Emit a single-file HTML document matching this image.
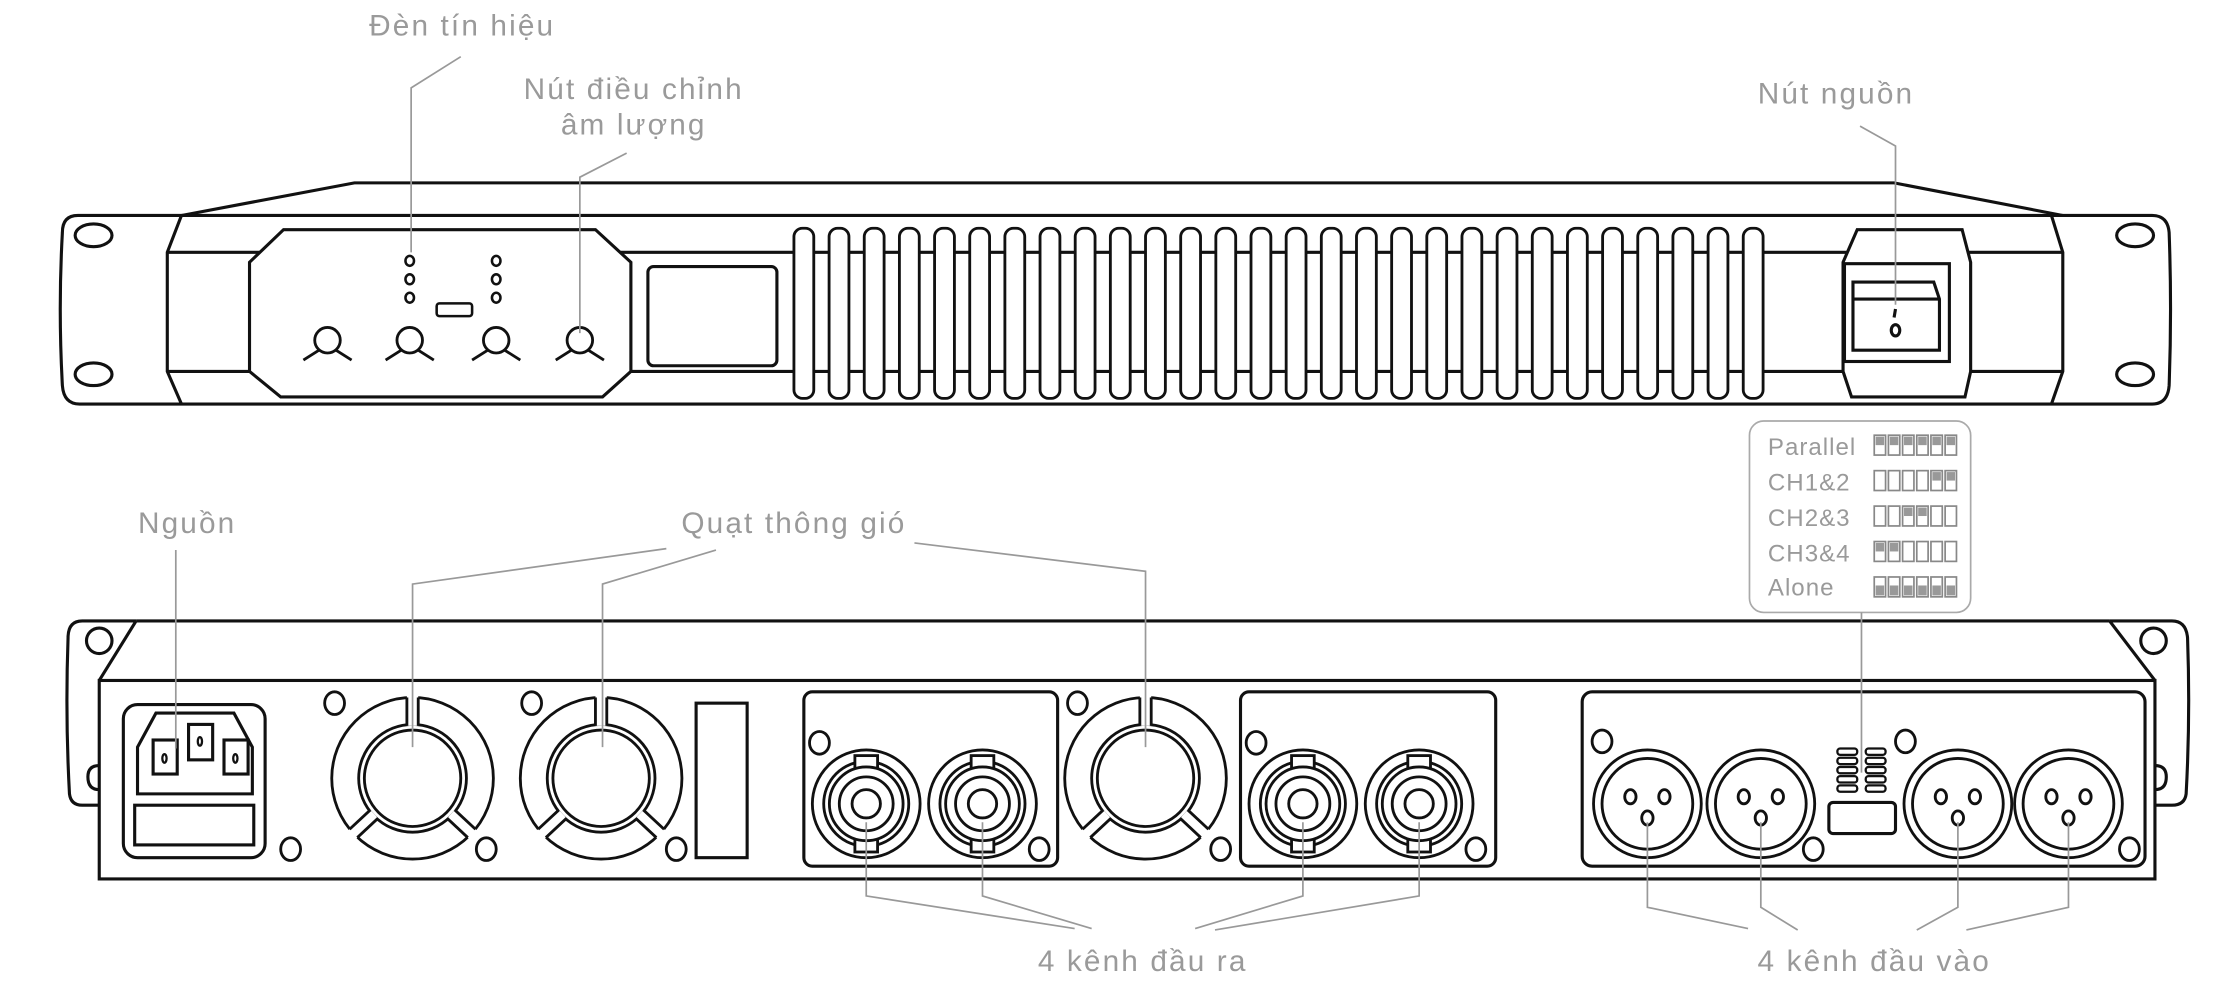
<!DOCTYPE html>
<html><head><meta charset="utf-8"><style>
html,body{margin:0;padding:0;background:#fff;}
svg{display:block}
text{font-family:"Liberation Sans",sans-serif;fill:#9a9a9a;}
.lb{font-size:21px;letter-spacing:1.5px;}
.dl{font-size:17px;letter-spacing:0.7px;}
</style></head><body>
<svg width="2223" height="1000" viewBox="0 0 1568 705.4" preserveAspectRatio="none" xmlns="http://www.w3.org/2000/svg">
<defs>
<rect id="slot" x="0" y="161" width="14" height="120" rx="6" ry="6" fill="#fff" stroke="#111" stroke-width="2"/>
<g id="fan" fill="none" stroke="#111" stroke-width="2">
  <circle r="57"/>
  <circle r="38" fill="#fff"/>
  <circle r="34"/>
  <g id="gap"><rect x="-4" y="-59" width="8" height="22" fill="#fff" stroke="none"/><line x1="-4" y1="-57" x2="-4" y2="-37"/><line x1="4" y1="-57" x2="4" y2="-37"/></g>
  <use href="#gap" transform="rotate(133)"/>
  <use href="#gap" transform="rotate(-133)"/>
</g>
<g id="spk" fill="none" stroke="#111" stroke-width="2">
  <circle r="38"/>
  <circle r="30"/>
  <rect x="-8" y="-34" width="16" height="10" fill="#fff"/>
  <rect x="-8" y="24" width="16" height="10" fill="#fff"/>
  <circle r="26" fill="#fff"/>
  <circle r="19"/>
  <circle r="10"/>
</g>
<g id="xlr" fill="none" stroke="#111" stroke-width="2">
  <circle r="38"/>
  <circle r="32"/>
  <ellipse cx="-12" cy="-5" rx="4" ry="5"/>
  <ellipse cx="12" cy="-5" rx="4" ry="5"/>
  <ellipse cx="0" cy="10" rx="4" ry="5"/>
</g>
<g id="knob" fill="none" stroke="#111" stroke-width="2">
  <circle r="9"/>
  <path d="M-6 7 L-17 14 M6 7 L17 14"/>
</g>
<g id="dipsw" stroke="#888" stroke-width="1.2" fill="#fff">
  <rect x="0" y="0" width="8" height="14"/><rect x="10" y="0" width="8" height="14"/><rect x="20" y="0" width="8" height="14"/><rect x="30" y="0" width="8" height="14"/><rect x="40" y="0" width="8" height="14"/><rect x="50" y="0" width="8" height="14"/>
</g>
</defs>

<g fill="none" stroke="#111" stroke-width="2.2">
  <path d="M128 152 L250 129 L1336 129 L1455 152"/>
  <path d="M128 152 L55 152 Q44 152 44 164 Q41 218 44 272 Q45 285 56 285 L1518 285 Q1529 285 1530 272 Q1532 218 1530 164 Q1529 152 1518 152 Z"/>
  <path d="M128 152 L118 178 L118 262 L128 285"/>
  <path d="M1447 152 L1455 178 L1455 262 L1447 285"/>
  <line x1="118" y1="178" x2="1455" y2="178"/>
  <line x1="118" y1="262" x2="1455" y2="262"/>
  <ellipse cx="66" cy="166" rx="13" ry="8"/>
  <ellipse cx="66" cy="264" rx="13" ry="8"/>
  <ellipse cx="1506" cy="166" rx="13" ry="8"/>
  <ellipse cx="1506" cy="264" rx="13" ry="8"/>
  <path d="M200 162 L420 162 L445 185 L445 262 L425 280 L198 280 L176 262 L176 185 Z" fill="#fff"/>
  <rect x="457" y="188" width="91" height="70" rx="4" fill="#fff"/>
  <path d="M1310 162 L1384 162 L1390 185 L1390 262 L1386 280 L1306 280 L1300 262 L1300 185 Z" fill="#fff"/>
  <rect x="1301" y="186" width="74" height="69" fill="#fff"/>
  <path d="M1307 247 L1307 199 L1364 199 L1368 211 L1368 247 Z"/>
  <line x1="1307" y1="211" x2="1368" y2="211"/>
  <line x1="1337" y1="218" x2="1336" y2="224"/>
  <ellipse cx="1337" cy="233" rx="3" ry="4"/>
</g>
<g fill="none" stroke="#111" stroke-width="1.8">
  <ellipse cx="289" cy="184" rx="3" ry="3.5"/><ellipse cx="289" cy="197" rx="3" ry="3.5"/><ellipse cx="289" cy="210" rx="3" ry="3.5"/>
  <ellipse cx="350" cy="184" rx="3" ry="3.5"/><ellipse cx="350" cy="197" rx="3" ry="3.5"/><ellipse cx="350" cy="210" rx="3" ry="3.5"/>
  <rect x="308" y="214" width="25" height="9" rx="2"/>
</g>
<use href="#knob" x="231" y="240"/>
<use href="#knob" x="289" y="240"/>
<use href="#knob" x="350" y="240"/>
<use href="#knob" x="409" y="240"/>
<use href="#slot" x="560"/><use href="#slot" x="584.8"/><use href="#slot" x="609.6"/><use href="#slot" x="634.4"/>
<use href="#slot" x="659.2"/><use href="#slot" x="684"/><use href="#slot" x="708.8"/><use href="#slot" x="733.6"/>
<use href="#slot" x="758.4"/><use href="#slot" x="783.2"/><use href="#slot" x="808"/><use href="#slot" x="832.8"/>
<use href="#slot" x="857.6"/><use href="#slot" x="882.4"/><use href="#slot" x="907.2"/><use href="#slot" x="932"/>
<use href="#slot" x="956.8"/><use href="#slot" x="981.6"/><use href="#slot" x="1006.4"/><use href="#slot" x="1031.2"/>
<use href="#slot" x="1056"/><use href="#slot" x="1080.8"/><use href="#slot" x="1105.6"/><use href="#slot" x="1130.4"/>
<use href="#slot" x="1155.2"/><use href="#slot" x="1180"/><use href="#slot" x="1204.8"/><use href="#slot" x="1229.6"/>

<g fill="none" stroke="#999" stroke-width="1.2">
  <path d="M325 40 L290 62 L290 178"/>
  <path d="M442 108 L409 125 L409 235"/>
  <path d="M1312 89 L1337 103 L1337 215"/>
</g>
<text class="lb" x="326" y="25" text-anchor="middle">Đèn tín hiệu</text>
<text class="lb" x="447" y="70" text-anchor="middle">Nút điều chỉnh</text>
<text class="lb" x="447" y="95" text-anchor="middle">âm lượng</text>
<text class="lb" x="1295" y="73" text-anchor="middle">Nút nguồn</text>

<g fill="none" stroke="#111" stroke-width="2.2">
  <path d="M96 438 L1488 438"/>
  <path d="M96 438 L58 438 Q48 438 48 450 Q46 505 49 560 Q50 568 58 568 L70 568"/>
  <path d="M1488 438 L1532 438 Q1542 438 1543 450 Q1545 505 1542 560 Q1541 568 1532 568 L1520 568"/>
  <path d="M96 438 L70 480 M1488 438 L1520 480"/>
  <rect x="70" y="480" width="1450" height="140" fill="#fff"/>
  <ellipse cx="70" cy="452" rx="9" ry="9"/>
  <ellipse cx="1519" cy="452" rx="9" ry="9"/>
  <path d="M70 540 Q62 540 62 548 Q62 557 70 557"/>
  <path d="M1520 540 Q1528 540 1528 548 Q1528 557 1520 557"/>
  <rect x="87" y="497" width="100" height="108" rx="10"/>
  <path d="M110 503 L165 503 L178 527 L178 560 L97 560 L97 527 Z"/>
  <rect x="108" y="522" width="17" height="24"/>
  <rect x="133" y="511" width="17" height="25"/>
  <rect x="158" y="522" width="17" height="24"/>
  <rect x="95" y="568" width="84" height="28"/>
  <rect x="491" y="496" width="36" height="109"/>
  <rect x="567" y="488" width="179" height="123" rx="6"/>
  <rect x="875" y="488" width="180" height="123" rx="6"/>
  <rect x="1116" y="488" width="397" height="123" rx="7"/>
  <rect x="1290" y="566" width="47" height="22" rx="3"/>
</g>
<g fill="none" stroke="#111" stroke-width="1.6">
  <ellipse cx="116" cy="535" rx="1.5" ry="3"/><ellipse cx="141" cy="523" rx="1.5" ry="3"/><ellipse cx="166" cy="535" rx="1.5" ry="3"/>
</g>
<g fill="none" stroke="#111" stroke-width="2">
  <ellipse cx="236" cy="496" rx="7" ry="8"/><ellipse cx="205" cy="599" rx="7" ry="8"/><ellipse cx="343" cy="599" rx="7" ry="8"/>
  <ellipse cx="375" cy="496" rx="7" ry="8"/><ellipse cx="477" cy="599" rx="7" ry="8"/>
  <ellipse cx="578" cy="524" rx="7" ry="8"/><ellipse cx="733" cy="599" rx="7" ry="8"/>
  <ellipse cx="760" cy="496" rx="7" ry="8"/><ellipse cx="861" cy="599" rx="7" ry="8"/>
  <ellipse cx="886" cy="524" rx="7" ry="8"/><ellipse cx="1041" cy="599" rx="7" ry="8"/>
  <ellipse cx="1130" cy="523" rx="7" ry="8"/>
  <ellipse cx="1279" cy="599" rx="7" ry="8"/><ellipse cx="1502" cy="599" rx="7" ry="8"/>
  <ellipse cx="1344" cy="523" rx="7" ry="8"/>
</g>
<use href="#fan" x="291" y="549"/>
<use href="#fan" x="424" y="549"/>
<use href="#fan" x="808" y="549"/>
<use href="#spk" x="611" y="567"/>
<use href="#spk" x="693" y="567"/>
<use href="#spk" x="919" y="567"/>
<use href="#spk" x="1001" y="567"/>
<use href="#xlr" x="1162" y="567"/>
<use href="#xlr" x="1242" y="567"/>
<use href="#xlr" x="1381" y="567"/>
<use href="#xlr" x="1459" y="567"/>
<g fill="#fff" stroke="#111" stroke-width="1.6">
  <rect x="1296" y="528" width="14" height="4.5" rx="2"/><rect x="1316" y="528" width="14" height="4.5" rx="2"/>
  <rect x="1296" y="534.5" width="14" height="4.5" rx="2"/><rect x="1316" y="534.5" width="14" height="4.5" rx="2"/>
  <rect x="1296" y="541" width="14" height="4.5" rx="2"/><rect x="1316" y="541" width="14" height="4.5" rx="2"/>
  <rect x="1296" y="547.5" width="14" height="4.5" rx="2"/><rect x="1316" y="547.5" width="14" height="4.5" rx="2"/>
  <rect x="1296" y="554" width="14" height="4.5" rx="2"/><rect x="1316" y="554" width="14" height="4.5" rx="2"/>
</g>

<rect x="1234" y="297" width="156" height="135" rx="10" fill="#fff" stroke="#aaa" stroke-width="1.2"/>
<text class="dl" x="1247" y="321">Parallel</text>
<text class="dl" x="1247" y="346">CH1&amp;2</text>
<text class="dl" x="1247" y="371">CH2&amp;3</text>
<text class="dl" x="1247" y="396">CH3&amp;4</text>
<text class="dl" x="1247" y="420">Alone</text>
<use href="#dipsw" x="1322" y="307"/>
<use href="#dipsw" x="1322" y="332"/>
<use href="#dipsw" x="1322" y="357"/>
<use href="#dipsw" x="1322" y="382"/>
<use href="#dipsw" x="1322" y="407"/>
<g fill="#999">
  <rect x="1323" y="308" width="6" height="6"/><rect x="1333" y="308" width="6" height="6"/><rect x="1343" y="308" width="6" height="6"/><rect x="1353" y="308" width="6" height="6"/><rect x="1363" y="308" width="6" height="6"/><rect x="1373" y="308" width="6" height="6"/>
  <rect x="1363" y="333" width="6" height="6"/><rect x="1373" y="333" width="6" height="6"/>
  <rect x="1343" y="358" width="6" height="6"/><rect x="1353" y="358" width="6" height="6"/>
  <rect x="1323" y="383" width="6" height="6"/><rect x="1333" y="383" width="6" height="6"/>
  <rect x="1323" y="413" width="6" height="7"/><rect x="1333" y="413" width="6" height="7"/><rect x="1343" y="413" width="6" height="7"/><rect x="1353" y="413" width="6" height="7"/><rect x="1363" y="413" width="6" height="7"/><rect x="1373" y="413" width="6" height="7"/>
</g>

<g fill="none" stroke="#999" stroke-width="1.2">
  <path d="M124 388 L124 528"/>
  <path d="M470 387 L291 412 L291 527"/>
  <path d="M505 388 L425 412 L425 527"/>
  <path d="M645 383 L808 403 L808 527"/>
  <path d="M1313 432 L1313 545"/>
  <path d="M611 580 L611 632 L758 655"/>
  <path d="M693 580 L693 632 L770 655"/>
  <path d="M919 580 L919 632 L843 655"/>
  <path d="M1001 580 L1001 632 L857 656"/>
  <path d="M1162 580 L1162 640 L1233 655"/>
  <path d="M1242 580 L1242 640 L1268 656"/>
  <path d="M1381 580 L1381 640 L1352 656"/>
  <path d="M1459 580 L1459 640 L1387 656"/>
</g>
<text class="lb" x="132" y="376" text-anchor="middle">Nguồn</text>
<text class="lb" x="560" y="376" text-anchor="middle">Quạt thông gió</text>
<text class="lb" x="806" y="685" text-anchor="middle">4 kênh đầu ra</text>
<text class="lb" x="1322" y="685" text-anchor="middle">4 kênh đầu vào</text>
</svg>
</body></html>
